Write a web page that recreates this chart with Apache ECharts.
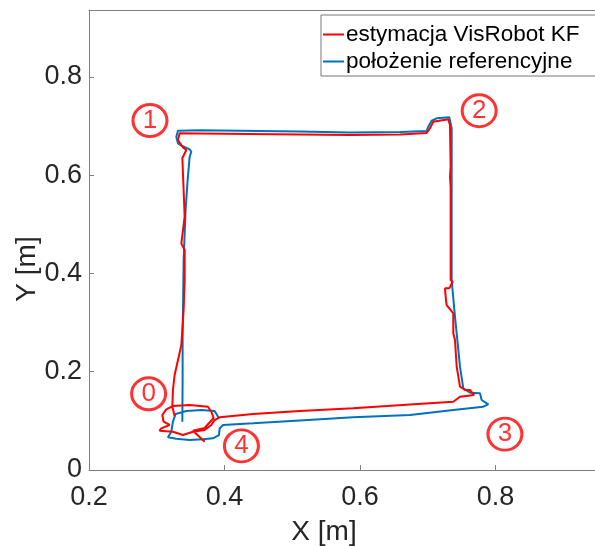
<!DOCTYPE html>
<html>
<head>
<meta charset="utf-8">
<script src="https://cdn.jsdelivr.net/npm/echarts@6/dist/echarts.min.js"></script>
<style>
html,body{margin:0;padding:0;background:#fff;}
#chart{width:595px;height:546px;}
</style>
</head>
<body>
<div id="chart"></div>
<script>
// Estimated trajectory (red) - "estymacja VisRobot KF"
const estX = [0.3264,0.3230,0.3239,0.3264,0.3327,0.3363,0.3397,0.3412,0.3412,0.3363,0.3412,0.3397,0.3378,0.3437,0.3387,0.3313,0.3338,0.3633,0.5112,0.5851,0.6590,0.6984,0.7033,0.7082,0.7304,0.7329,0.7339,0.7329,0.7339,0.7339,0.7369,0.7319,0.7255,0.7270,0.7280,0.7378,0.7378,0.7403,0.7428,0.7477,0.7551,0.7625,0.7684,0.7477,0.7378,0.6738,0.5900,0.5112,0.4421,0.3929,0.3855,0.3806,0.3707,0.3534,0.3387,0.3239,0.3042,0.3067,0.3190,0.3101,0.3082,0.3141,0.3239,0.3486,0.3756,0.3806,0.3840,0.3707,0.3534,0.3707];
const estY = [0.1099,0.1288,0.1628,0.1933,0.2319,0.2543,0.3255,0.3866,0.4476,0.4612,0.5154,0.5697,0.6348,0.6511,0.6562,0.6714,0.6850,0.6846,0.6826,0.6816,0.6826,0.6857,0.6952,0.7087,0.7135,0.7019,0.6171,0.5968,0.5764,0.3866,0.3831,0.3697,0.3697,0.3459,0.3357,0.3188,0.2781,0.2645,0.2102,0.1695,0.1628,0.1628,0.1526,0.1491,0.1390,0.1333,0.1255,0.1200,0.1139,0.1072,0.1017,0.0916,0.0814,0.0779,0.0712,0.0779,0.0800,0.0848,0.0916,0.0983,0.1119,0.1235,0.1302,0.1322,0.1288,0.1186,0.1058,0.0855,0.0800,0.0576];

// Reference trajectory (blue) - "położenie referencyjne"
const refX = [0.3378,0.3382,0.3382,0.3390,0.3397,0.3426,0.3456,0.3486,0.3511,0.3486,0.3378,0.3313,0.3289,0.3313,0.3633,0.5112,0.5851,0.6590,0.6984,0.7008,0.7058,0.7132,0.7319,0.7354,0.7354,0.7354,0.7403,0.7428,0.7477,0.7526,0.7625,0.7772,0.7797,0.7895,0.7821,0.7378,0.6738,0.5900,0.5112,0.4421,0.3978,0.3929,0.3919,0.3830,0.3682,0.3486,0.3289,0.3165,0.3215,0.3239,0.3279,0.3437,0.3659,0.3855,0.3919];
const refY = [0.0983,0.1831,0.2645,0.3459,0.4273,0.5290,0.5900,0.6375,0.6476,0.6525,0.6592,0.6647,0.6781,0.6903,0.6911,0.6887,0.6867,0.6877,0.6897,0.6985,0.7107,0.7156,0.7176,0.6952,0.5493,0.3866,0.3119,0.2781,0.2102,0.1662,0.1573,0.1561,0.1424,0.1337,0.1288,0.1221,0.1119,0.1072,0.1007,0.0950,0.0916,0.0848,0.0712,0.0645,0.0625,0.0610,0.0637,0.0665,0.0779,0.0983,0.1139,0.1200,0.1221,0.1200,0.1052];

// Circled waypoint labels
const markerLabels = ['0','1','2','3','4'];
const markerX = [0.288,0.290,0.776,0.814,0.425];
const markerY = [0.155,0.711,0.731,0.073,0.049];

const seriesNames = ['estymacja VisRobot KF','położenie referencyjne'];
const xTicks = [0.2,0.4,0.6,0.8];
const yTicks = [0,0.2,0.4,0.6,0.8];
const axisNames = ['X [m]','Y [m]'];

const FONT = 'Liberation Sans, Arial, sans-serif';
const chart = echarts.init(document.getElementById('chart'), null, {renderer:'canvas'});

const estData = estX.map((x,i)=>[x, estY[i]]);
const refData = refX.map((x,i)=>[x, refY[i]]);
const markerData = markerX.map((x,i)=>({value:[x, markerY[i]], name: markerLabels[i]}));

chart.setOption({
  animation:false,
  backgroundColor:'#ffffff',
  grid:{left:89, right:0, top:10, bottom:76, containLabel:false},
  legend:{
    data:seriesNames,
    orient:'vertical',
    left:321, top:15,
    icon:'rect', itemWidth:21, itemHeight:2, itemGap:4,
    padding:[8,30,3,2],
    borderColor:'#777777', borderWidth:1,
    backgroundColor:'#ffffff',
    textStyle:{fontFamily:FONT, fontSize:22.5, color:'#000000', padding:[0,0,0,-3]}
  },
  xAxis:[{
    type:'value', min:xTicks[0], max:0.947, interval:0.2,
    axisLine:{show:true, lineStyle:{color:'#808080', width:1}},
    axisTick:{show:true, inside:true, length:5, lineStyle:{color:'#808080'}},
    axisLabel:{showMaxLabel:false, fontFamily:FONT, fontSize:27, color:'#262626', margin:14,
      formatter:v=>(Math.round(v*10)/10).toString()},
    splitLine:{show:false}
  },{
    type:'value', position:'top', min:xTicks[0], max:0.947,
    axisLine:{show:true, lineStyle:{color:'#808080', width:1}},
    axisTick:{show:false}, axisLabel:{show:false}, splitLine:{show:false}
  }],
  yAxis:{
    type:'value', min:yTicks[0], max:0.936, interval:0.2,
    axisLine:{show:true, lineStyle:{color:'#808080', width:1}},
    axisTick:{show:true, inside:true, length:5, lineStyle:{color:'#808080'}},
    axisLabel:{showMaxLabel:false, fontFamily:FONT, fontSize:27, color:'#262626', margin:7,
      formatter:v=>(Math.round(v*10)/10).toString()},
    splitLine:{show:false}
  },
  graphic:[
    {type:'text', x:324, y:532, style:{text:axisNames[0], font:'28px '+FONT, fill:'#262626', textAlign:'center', textVerticalAlign:'middle'}},
    {type:'text', x:27, y:269, rotation:Math.PI/2, style:{text:axisNames[1], font:'28px '+FONT, fill:'#262626', textAlign:'center', textVerticalAlign:'middle'}}
  ],
  series:[
    {name:seriesNames[0], type:'line', data:estData, showSymbol:false, symbol:'none', z:4,
      lineStyle:{color:'#ff0000', width:2}, itemStyle:{color:'#ff0000'}},
    {name:seriesNames[1], type:'line', data:refData, showSymbol:false, symbol:'none', z:3,
      lineStyle:{color:'#0072bd', width:2}, itemStyle:{color:'#0072bd'}},
    {name:'markers', type:'scatter', data:markerData, symbol:'circle', symbolSize:[34,32], z:5,
      itemStyle:{color:'rgba(255,255,255,0)', borderColor:'#ff0000', borderWidth:3},
      label:{show:true, position:'inside', formatter:p=>p.name, fontFamily:FONT, fontSize:26, color:'#ff0000'},
      emphasis:{disabled:true}, silent:true}
  ]
});
</script>
</body>
</html>
